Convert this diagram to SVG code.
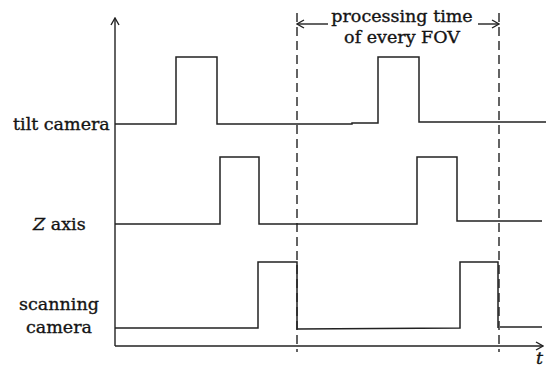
<svg xmlns="http://www.w3.org/2000/svg" width="548" height="368" viewBox="0 0 548 368">
  <style>
    .ln { fill: none; stroke: #222; stroke-width: 1.5; stroke-linejoin: miter; }
    .ax { fill: none; stroke: #222; stroke-width: 1.4; }
    .dash { fill: none; stroke: #222; stroke-width: 1.4; stroke-dasharray: 9 5; }
    .lbl { font-family: "DejaVu Serif", "Liberation Serif", serif; font-size: 17.5px; fill: #141414; stroke: #141414; stroke-width: 0.35; }
    .it { font-style: italic; }
  </style>
  <defs>
    <marker id="head" viewBox="0 0 10 10" refX="9" refY="5" markerWidth="10" markerHeight="10" markerUnits="userSpaceOnUse" orient="auto">
      <path d="M2,1 L9,5 L2,9" fill="none" stroke="#222" stroke-width="1.4"/>
    </marker>
  </defs>

  <!-- axes -->
  <g id="axes">
    <line class="ax" x1="115" y1="346" x2="115" y2="18" marker-end="url(#head)"/>
    <line class="ax" x1="115" y1="346" x2="543" y2="346" marker-end="url(#head)"/>
    <text class="lbl it" x="536" y="364">t</text>
  </g>

  <!-- signal traces -->
  <g id="tilt-camera">
    <polyline class="ln" points="115,124 176,124 176,57 217,57 217,124 352,124 352,123 378,123 378,57 419,57 419,122 546,122"/>
    <text class="lbl" x="13" y="130">tilt camera</text>
  </g>
  <g id="z-axis">
    <polyline class="ln" points="115,224 220,224 220,157 259,157 259,224 417,224 417,157 457,157 457,221 542,221"/>
    <text class="lbl" x="33" y="230"><tspan class="it">Z</tspan> axis</text>
  </g>
  <g id="scanning-camera">
    <polyline class="ln" points="115,328 258,328 258,262 297,262 297,329 460,328 460,262 498,262 498,328"/>
    <polyline class="ln" points="500,327 542,327"/>
    <text class="lbl" x="59" y="310" text-anchor="middle">scanning</text>
    <text class="lbl" x="59" y="333" text-anchor="middle">camera</text>
  </g>

  <!-- FOV interval -->
  <g id="connectors">
    <line class="dash" x1="297" y1="13" x2="297" y2="352"/>
    <line class="dash" x1="499" y1="13" x2="499" y2="352"/>
    <line class="ax" x1="328" y1="24" x2="297" y2="24" marker-end="url(#head)"/>
    <line class="ax" x1="478" y1="24" x2="499" y2="24" marker-end="url(#head)"/>
  </g>
  <g id="fov-label">
    <text class="lbl" x="402" y="22" text-anchor="middle">processing time</text>
    <text class="lbl" x="402" y="43" text-anchor="middle">of every FOV</text>
  </g>
</svg>
